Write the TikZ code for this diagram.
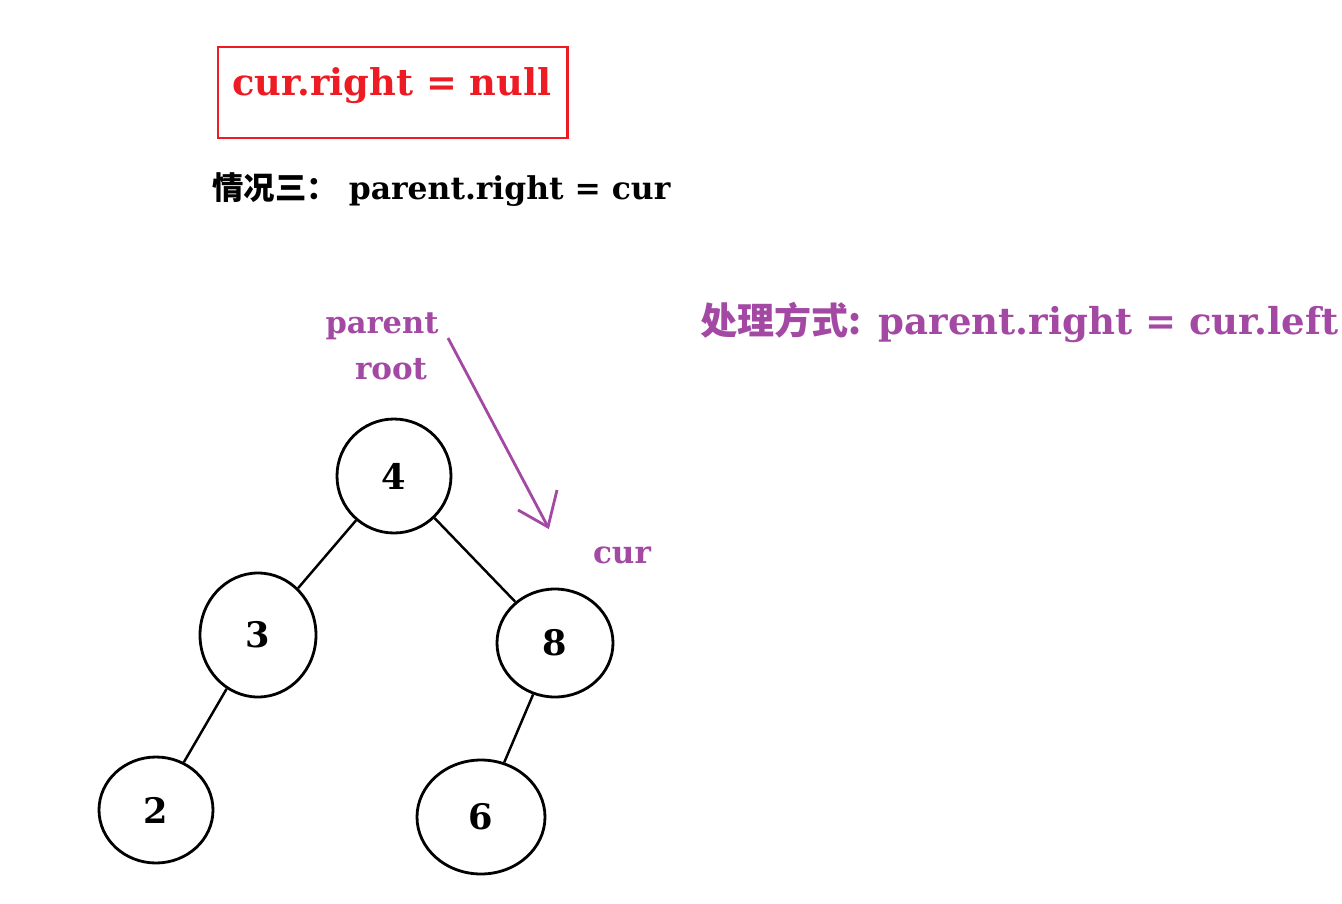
\documentclass[tikz,border=0pt]{standalone}
\usepackage{fontspec}
\usepackage{graphicx}
\setmainfont{DejaVu Serif}
\newfontfamily\cjk{Noto Sans CJK SC}
\usetikzlibrary{shapes.geometric}
\definecolor{pur}{HTML}{A349A4}
\definecolor{rd}{HTML}{ED1C24}
\begin{document}
\begin{tikzpicture}[x=0.02cm,y=-0.02cm,
  tn/.style={draw,line width=1.6pt,ellipse,inner sep=0pt,font=\fontsize{20}{22}\selectfont\bfseries},
  pl/.style={text=pur,font=\bfseries,inner sep=0pt},
  ed/.style={line width=1.4pt}]
\useasboundingbox (0,0) rectangle (1342,903);
\draw[rd,line width=1.7pt] (218,47) rectangle (567,138);
\node[text=rd,inner sep=0pt,font=\bfseries] (title) at (392,86) {\resizebox{6.38cm}{!}{cur.right = null}};
\node[anchor=west,inner sep=0pt,font=\bfseries] (case) at (212,190) {\resizebox{9.16cm}{!}{{\cjk\bfseries 情况三：}\ parent.right = cur}};
\node[pl] (parent) at (382,326) {\resizebox{2.26cm}{!}{parent}};
\node[pl] (root) at (391,369) {\resizebox{1.44cm}{!}{root}};
\node[pl,anchor=west] (how) at (700,322) {\resizebox{12.76cm}{!}{{\cjk\bfseries 处理方式:} parent.right = cur.left}};
\node[pl] (curl) at (622,555) {\resizebox{1.16cm}{!}{cur}};
\node[tn,minimum width=114*0.02cm,minimum height=114*0.02cm] (n4) at (394,476) {4};
\node[tn,minimum width=116*0.02cm,minimum height=124*0.02cm] (n3) at (258,635) {3};
\node[tn,minimum width=116*0.02cm,minimum height=108*0.02cm] (n8) at (555,643) {8};
\node[tn,minimum width=114*0.02cm,minimum height=106*0.02cm] (n2) at (156,810) {2};
\node[tn,minimum width=128*0.02cm,minimum height=114*0.02cm] (n6) at (481,817) {6};
\draw[ed] (n4) -- (n3);
\draw[ed] (n4) -- (n8);
\draw[ed] (n3) -- (n2);
\draw[ed] (n8) -- (n6);
\coordinate (a0) at (448,338);
\coordinate (a1) at (548,527);
\draw[pur,line width=1.6pt] (a0) -- (a1);
\draw[pur,line width=1.6pt] (518,510) -- (a1) -- (557,490);
\end{tikzpicture}
\end{document}
